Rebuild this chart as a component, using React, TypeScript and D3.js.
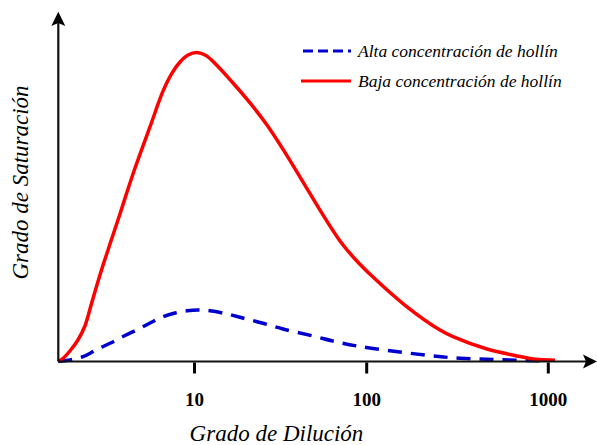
import React from "react";
import * as d3 from "d3";

// Dilution degree (x, log scale) and saturation degree (y, arbitrary units)
const lowSootX = [1.62, 1.723, 1.892, 2.106, 2.312, 2.54, 2.827, 3.231, 3.693, 4.395, 5.515, 6.564, 7.403, 8.239, 9.168, 10.34, 11.66, 13.51, 16.73, 21.01, 26.36, 33.09, 41.01, 53.56, 69.98, 85.5, 108.3, 164.6, 253.3, 298.7, 459.7, 698.6, 845.2, 1088.7];
const lowSootY = [0, 0.0096, 0.0337, 0.069, 0.114, 0.191, 0.278, 0.377, 0.4735, 0.602, 0.753, 0.868, 0.926, 0.9615, 0.984, 0.992, 0.9823, 0.9502, 0.894, 0.83, 0.759, 0.676, 0.592, 0.486, 0.387, 0.329, 0.271, 0.178, 0.101, 0.08, 0.04, 0.016, 0.007, 0.004];

const highSootX = [1.62, 1.892, 2.252, 2.679, 3.231, 3.949, 4.826, 5.667, 6.564, 7.706, 9.046, 10.48, 12.3, 15.04, 18.37, 24.01, 32.65, 48.77, 65.45, 87.8, 134.4, 231.8, 326.5, 459.7, 866.7, 996];
const highSootY = [0, 0.005, 0.0154, 0.0369, 0.0584, 0.0835, 0.1066, 0.1268, 0.1438, 0.1557, 0.1628, 0.1653, 0.1628, 0.1541, 0.1419, 0.1252, 0.1043, 0.0819, 0.0642, 0.0498, 0.0347, 0.0177, 0.0103, 0.007, 0.0026, 0.0016];

const tickValues = [10, 100, 1000];
const tickLabels = ["10", "100", "1000"];

const seriesNames = ["Alta concentración de hollín", "Baja concentración de hollín"];
const xTitle = "Grado de Dilución";
const yTitle = "Grado de Saturación";

const W = 597;
const H = 445;
const originX = 58.3;
const originY = 361.5;

const serif = "Liberation Serif";

export default function App() {
  const x = d3
    .scaleLog()
    .domain([1.62, 10, 100, 1000])
    .range([originX, 194.5, 366.7, 548.3]);
  const y = d3.scaleLinear().domain([0, 1]).range([originY, 50]);

  const line = d3
    .line<[number, number]>()
    .x((d) => x(d[0]))
    .y((d) => y(d[1]))
    .curve(d3.curveCatmullRom.alpha(0.5));

  const low = lowSootX.map((v, i) => [v, lowSootY[i]] as [number, number]);
  const high = highSootX.map((v, i) => [v, highSootY[i]] as [number, number]);

  const blue = "#0000cc";
  const red = "#ff0000";

  return (
    <svg
      width={W}
      height={H}
      style={{ position: "absolute", left: 0, top: 0, background: "#fff" }}
    >
      {/* curves */}
      <path d={line(high) ?? ""} fill="none" stroke={blue} strokeWidth={3.5} strokeDasharray="14 9" />
      <path d={line(low) ?? ""} fill="none" stroke={red} strokeWidth={3.5} />

      {/* axes */}
      <line x1={originX} y1={originY} x2={originX} y2={20} stroke="#111" strokeWidth={2.2} />
      <line x1={originX} y1={originY} x2={590} y2={originY} stroke="#111" strokeWidth={2.2} />
      <path
        d={`M${originX},11.7 L${originX + 7},26 L${originX},23 L${originX - 7},26 Z`}
        fill="#000"
      />
      <path
        d={`M597,${originY} L583,${originY - 7} L586,${originY} L583,${originY + 7} Z`}
        fill="#000"
      />

      {/* ticks and labels */}
      {tickValues.map((t, i) => (
        <g key={t}>
          <line
            x1={x(t)}
            x2={x(t)}
            y1={originY + 1}
            y2={originY + 12}
            stroke="#000"
            strokeWidth={3}
          />
          <text
            x={x(t)}
            y={406}
            textAnchor="middle"
            fontFamily={serif}
            fontWeight="bold"
            fontSize={19}
            fill="#000"
          >
            {tickLabels[i]}
          </text>
        </g>
      ))}

      {/* axis titles */}
      <text
        x={276.5}
        y={441}
        textAnchor="middle"
        fontFamily={serif}
        fontStyle="italic"
        fontSize={23}
        fill="#000"
      >
        {xTitle}
      </text>
      <text
        transform="translate(28,182.5) rotate(-90)"
        textAnchor="middle"
        fontFamily={serif}
        fontStyle="italic"
        fontSize={23}
        fill="#000"
      >
        {yTitle}
      </text>

      {/* legend */}
      <line x1={301} x2={351} y1={51} y2={51} stroke={blue} strokeWidth={3} strokeDasharray="10 5" strokeDashoffset={-2} />
      <text x={358} y={57} fontFamily={serif} fontStyle="italic" fontSize={17.5} fill="#000">
        {seriesNames[0]}
      </text>
      <line x1={301} x2={351} y1={81} y2={81} stroke={red} strokeWidth={3} />
      <text x={358} y={87} fontFamily={serif} fontStyle="italic" fontSize={17.5} fill="#000">
        {seriesNames[1]}
      </text>
    </svg>
  );
}
